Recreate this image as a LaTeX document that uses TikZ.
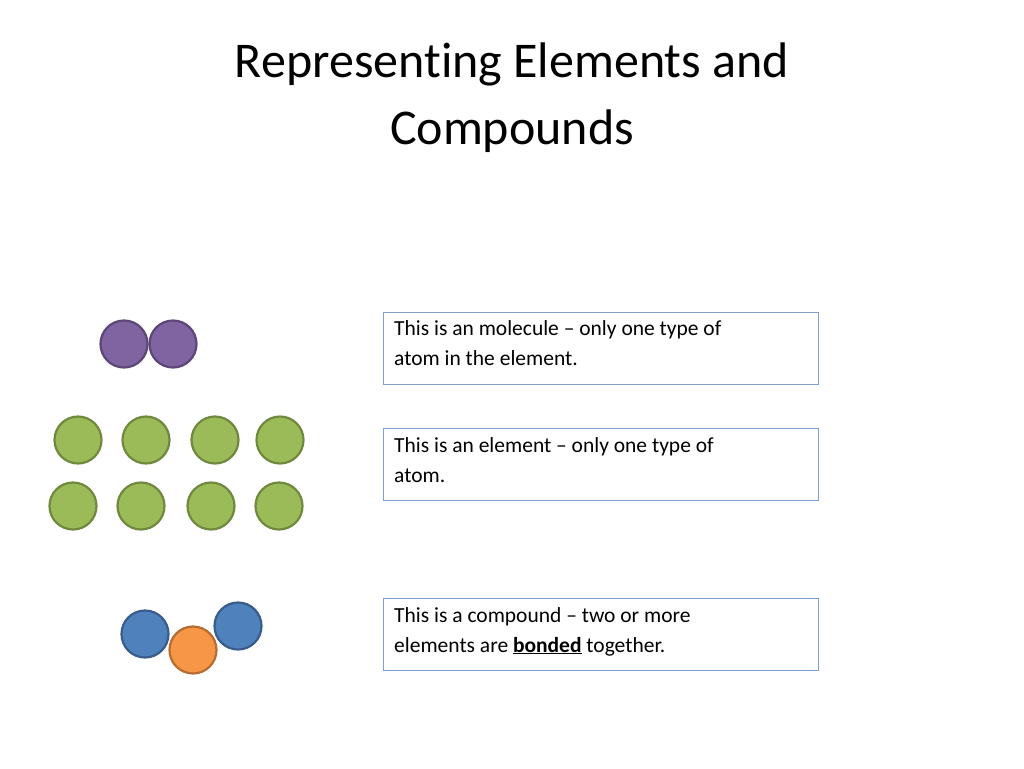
\documentclass[tikz,border=0pt]{standalone}
\usepackage{fontspec}
\setmainfont[Ligatures={NoCommon}]{Carlito}
\newcommand{\myul}[1]{\underline{#1}}
\begin{document}
\begin{tikzpicture}[x=1pt,y=-1pt,
 atom/.style={circle,draw,line width=2.2pt,minimum size=47pt,inner sep=0pt},
 pu/.style={atom,fill=purple1,draw=purple2},
 gr/.style={atom,fill=green1,draw=green2},
 bl/.style={atom,fill=blue1,draw=blue2},
 orr/.style={atom,fill=orange1,draw=orange2},
 tbox/.style={draw=boxc,line width=1pt,minimum width=435pt,minimum height=72pt,anchor=north west,inner sep=0pt},
 ttext/.style={align=left,anchor=north west,font=\fontsize{21.5pt}{30pt}\selectfont,inner sep=0pt}]
\definecolor{purple1}{HTML}{8064A2}\definecolor{purple2}{HTML}{5C4776}
\definecolor{green1}{HTML}{9BBB59}\definecolor{green2}{HTML}{71893F}
\definecolor{blue1}{HTML}{4F81BD}\definecolor{blue2}{HTML}{385D8A}
\definecolor{orange1}{HTML}{F79646}\definecolor{orange2}{HTML}{B66D31}
\definecolor{boxc}{HTML}{7F9FCF}
\useasboundingbox[fill=white] (0,0) rectangle (1024,768);
\node[align=center,font=\fontsize{50pt}{67pt}\selectfont] (title) at (512,98) {Representing Elements and\\Compounds};
\node[pu] (p1) at (124,344) {};
\node[pu] (p2) at (173,344) {};
\node[gr] (g1) at (78,440) {};
\node[gr] (g2) at (146,440) {};
\node[gr] (g3) at (215,440) {};
\node[gr] (g4) at (280,440) {};
\node[gr] (g5) at (73,506) {};
\node[gr] (g6) at (141,506) {};
\node[gr] (g7) at (211,506) {};
\node[gr] (g8) at (279,506) {};
\node[bl] (b1) at (145,634) {};
\node[bl] (b2) at (238,626) {};
\node[orr] (o1) at (193,650) {};
\node[tbox] (t1) at (383,312) {};
\node[tbox] (t2) at (383,428) {};
\node[tbox] (t3) at (383,598) {};
\node[ttext] (x1) at (394,320) {This is an molecule -- only one type of\\atom in the element.};
\node[ttext] (x2) at (394,437) {This is an element -- only one type of\\atom.};
\node[ttext] (x3) at (394,607) {This is a compound -- two or more\\elements are \textbf{\myul{bonded}} together.};
\end{tikzpicture}
\end{document}
